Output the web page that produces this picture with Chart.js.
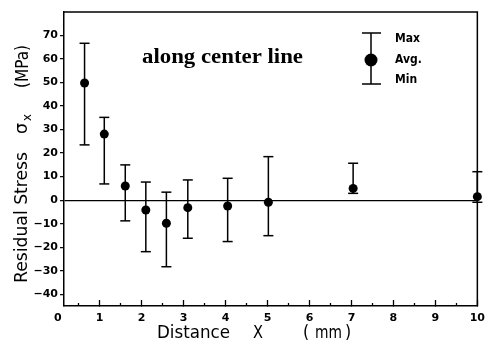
<!DOCTYPE html>
<html>
<head>
<meta charset="utf-8">
<script src="https://cdn.jsdelivr.net/npm/chart.js@4.4.1/dist/chart.umd.min.js"></script>
<style>
  html, body { margin: 0; padding: 0; background: #fff; }
  #wrap { width: 497px; height: 345px; }
</style>
</head>
<body>
<div id="wrap"><canvas id="chart"></canvas></div>
<script>
// distance along the center line (mm)
const distances = [0.64, 1.11, 1.61, 2.1, 2.59, 3.1, 4.05, 5.02, 7.04, 10.0]
// residual stress sigma_x (MPa)
const avgStress = [49.8, 28.1, 6.0, -4.2, -9.8, -3.2, -2.5, -0.9, 5.0, 1.5]
const maxStress = [66.7, 35.2, 15.0, 7.7, 3.4, 8.6, 9.3, 18.5, 15.7, 12.1]
const minStress = [23.5, 6.9, -8.8, -21.9, -28.3, -16.2, -17.6, -15.1, 2.9, -0.9]

const xTicks = [0, 1, 2, 3, 4, 5, 6, 7, 8, 9, 10]
const xMinorTicks = [0.5, 1.5, 2.5, 3.5, 4.5, 5.5, 6.5, 7.5, 8.5, 9.5]
const yTicks = [-40, -30, -20, -10, 0, 10, 20, 30, 40, 50, 60, 70]
const xRange = [0.15, 10]
const yRange = [-45, 80]

const tickFont = { family: 'DejaVu Sans', size: 11, weight: 'bold' }

const stems = []
const caps = []
distances.forEach((x, i) => {
    stems.push({ x: x, y: minStress[i] }, { x: x, y: maxStress[i] }, { x: x, y: null })
    caps.push({ x: x, y: maxStress[i] }, { x: x, y: minStress[i] })
})
const avgPoints = distances.map((x, i) => ({ x: x, y: avgStress[i] }))

function fitText(ctx, text, x, y, font, width) {
    ctx.save()
    ctx.font = font
    const w = ctx.measureText(text).width
    ctx.translate(x, y)
    ctx.scale(width / w, 1)
    ctx.fillText(text, 0, 0)
    ctx.restore()
}

function scaledText(ctx, text, x, y, font, sx) {
    ctx.save()
    ctx.font = font
    ctx.translate(x, y)
    ctx.scale(sx, 1)
    ctx.fillText(text, 0, 0)
    ctx.restore()
}

const decorations = {
    id: 'decorations',
    beforeDatasetsDraw(chart) {
        const { ctx, chartArea: a } = chart
        ctx.save()
        ctx.strokeStyle = '#000'
        ctx.lineWidth = 1.5
        ctx.beginPath()
        ctx.moveTo(a.left, a.top)
        ctx.lineTo(a.right, a.top)
        ctx.lineTo(a.right, a.bottom)
        ctx.stroke()
        ctx.restore()
    },
    afterDraw(chart) {
        const ctx = chart.ctx
        ctx.save()
        ctx.fillStyle = '#000'
        ctx.strokeStyle = '#000'
        ctx.textBaseline = 'alphabetic'

        // inset title
        fitText(ctx, 'along center line', 142, 63, 'bold 20px "Liberation Serif"', 161)

        // y axis title (rotated)
        const yTitle = [
            ['Residual Stress', 27, 283, '18px "DejaVu Sans"', 131],
            ['σ', 27, 134, '18px "DejaVu Sans"', 11],
            ['x', 31, 121, '13px "DejaVu Sans"', 7],
            ['(MPa)', 28, 88, '18px "DejaVu Sans"', 43],
        ]
        yTitle.forEach(([t, bx, by, f, w]) => {
            ctx.save()
            ctx.translate(bx, by)
            ctx.rotate(-Math.PI / 2)
            fitText(ctx, t, 0, 0, f, w)
            ctx.restore()
        })

        // x axis title
        const xf = '18px "DejaVu Sans"'
        fitText(ctx, 'Distance', 157, 338, xf, 73)
        fitText(ctx, 'X', 253, 338, xf, 10)
        scaledText(ctx, '(', 303, 338, xf, 0.88)
        fitText(ctx, 'mm', 315, 338, xf, 27)
        scaledText(ctx, ')', 345, 338, xf, 0.88)

        // legend glyph
        ctx.lineWidth = 1.5
        ctx.beginPath()
        ctx.moveTo(362, 33); ctx.lineTo(381, 33)
        ctx.moveTo(371, 33); ctx.lineTo(371, 84)
        ctx.moveTo(362, 84); ctx.lineTo(381, 84)
        ctx.stroke()
        ctx.beginPath()
        ctx.arc(371, 60, 6.5, 0, Math.PI * 2)
        ctx.fill()
        ctx.textBaseline = 'middle'
        const lf = 'bold 12px "DejaVu Sans"'
        scaledText(ctx, 'Max', 395, 39, lf, 0.9)
        scaledText(ctx, 'Avg.', 395, 60, lf, 0.9)
        scaledText(ctx, 'Min', 395, 80, lf, 0.9)
        ctx.restore()
    }
}

new Chart(document.getElementById('chart'), {
    type: 'scatter',
    data: {
        datasets: [
            {
                label: 'range',
                data: stems,
                showLine: true,
                spanGaps: false,
                borderColor: '#000',
                borderWidth: 1.5,
                pointRadius: 0,
                clip: false,
            },
            {
                label: 'max/min',
                data: caps,
                pointStyle: 'line',
                pointRadius: 5,
                borderColor: '#000',
                borderWidth: 1.5,
                clip: false,
            },
            {
                label: 'avg',
                data: avgPoints,
                pointStyle: 'circle',
                pointRadius: 4.5,
                backgroundColor: '#000',
                borderColor: '#000',
                borderWidth: 0,
                clip: false,
            },
        ],
    },
    options: {
        responsive: true,
        maintainAspectRatio: false,
        animation: false,
        events: [],
        layout: { padding: { top: 12, right: 10, left: 0, bottom: 0 } },
        plugins: { legend: { display: false }, tooltip: { enabled: false } },
        scales: {
            xMinor: {
                type: 'linear',
                position: 'bottom',
                weight: -1,
                min: xRange[0],
                max: xRange[1],
                afterBuildTicks: (s) => { s.ticks = xMinorTicks.map((v) => ({ value: v })) },
                afterFit: (s) => { s.height = 0 },
                ticks: { display: false },
                grid: { drawOnChartArea: false, tickLength: -3, tickColor: '#000', tickWidth: 1.3 },
                border: { display: false },
            },
            x: {
                type: 'linear',
                position: 'bottom',
                min: xRange[0],
                max: xRange[1],
                afterBuildTicks: (s) => { s.ticks = xTicks.map((v) => ({ value: v })) },
                afterFit: (s) => { s.height = 39 },
                ticks: { autoSkip: false, maxRotation: 0, font: tickFont, color: '#000', padding: 12 },
                grid: {
                    drawOnChartArea: false,
                    tickLength: -6,
                    tickWidth: 1.3,
                    tickColor: (c) => (c.tick && c.tick.value === 0 ? 'rgba(0,0,0,0)' : '#000'),
                },
                border: { color: '#000', width: 1.5 },
            },
            y: {
                type: 'linear',
                min: yRange[0],
                max: yRange[1],
                afterBuildTicks: (s) => { s.ticks = yTicks.map((v) => ({ value: v })) },
                afterFit: (s) => { s.width = 64 },
                ticks: {
                    font: tickFont,
                    color: '#000',
                    padding: 2,
                    callback: (v) => String(v).replace('-', '−'),
                },
                grid: {
                    tickLength: 4,
                    tickWidth: 1.2,
                    tickColor: '#000',
                    lineWidth: 1.3,
                    color: (c) => (c.tick && c.tick.value === 0 ? '#000' : 'rgba(0,0,0,0)'),
                },
                border: { color: '#000', width: 1.5 },
            },
        },
    },
    plugins: [decorations],
})
</script>
</body>
</html>
